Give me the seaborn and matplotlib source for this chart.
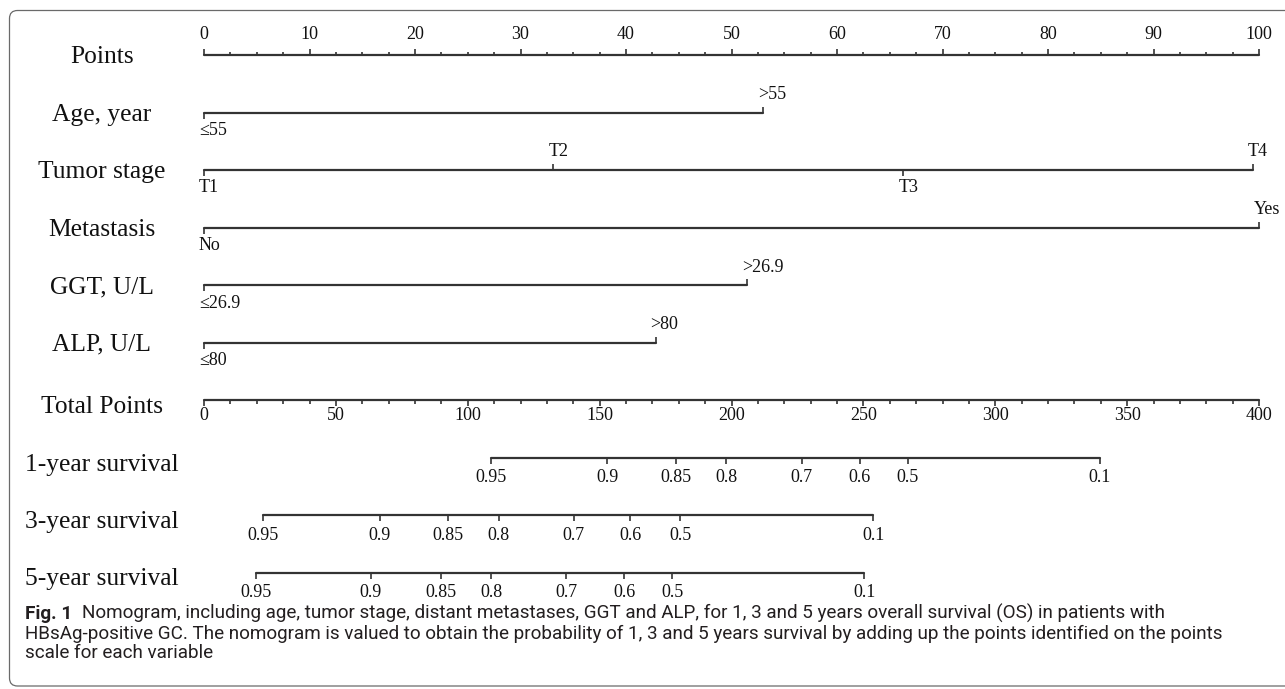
import numpy as np
import pandas as pd
import matplotlib
matplotlib.use("Agg")
import matplotlib.pyplot as plt
import seaborn as sns
from matplotlib.patches import FancyBboxPatch

# ---------------- data ----------------
row_labels = ["Points", "Age, year", "Tumor stage", "Metastasis", "GGT, U/L",
              "ALP, U/L", "Total Points", "1-year survival", "3-year survival",
              "5-year survival"]

points_major = list(range(0, 101, 10))
points_minor_step = 2.5
total_major = list(range(0, 401, 50))
total_minor_step = 10

age_levels = ["≤55", ">55"]
age_points = [0, 53.0]
tumor_levels = ["T1", "T2", "T3", "T4"]
tumor_points = [0, 33.1, 66.3, 99.4]
meta_levels = ["No", "Yes"]
meta_points = [0, 100]
ggt_levels = ["≤26.9", ">26.9"]
ggt_points = [0, 51.5]
alp_levels = ["≤80", ">80"]
alp_points = [0, 42.8]

surv_probs = ["0.95", "0.9", "0.85", "0.8", "0.7", "0.6", "0.5", "0.1"]
surv_1yr_total = [108.7, 152.8, 179.0, 198.0, 226.6, 248.7, 266.9, 339.6]
surv_3yr_total = [22.5, 66.6, 92.4, 111.8, 140.1, 161.7, 180.6, 253.7]
surv_5yr_total = [19.8, 63.2, 89.8, 108.8, 137.4, 159.4, 177.6, 250.4]

caption_bold = "Fig. 1"
caption_lines = [
    "Nomogram, including age, tumor stage, distant metastases, GGT and ALP, for 1, 3 and 5 years overall survival (OS) in patients with",
    "HBsAg-positive GC. The nomogram is valued to obtain the probability of 1, 3 and 5 years survival by adding up the points identified on the points",
    "scale for each variable",
]

# ---------------- layout ----------------
W, H = 1285, 689
X0, X100 = 204.0, 1259.0          # pixel position of 0 and 100 points
ppp = (X100 - X0) / 100.0
ROW0, ROWSTEP = 55.0, 57.5
row_y = [ROW0 + ROWSTEP * i for i in range(len(row_labels))]
TOTAL_MAX = 400.0

LC = "#333333"
TXT = "#111111"

sns.set_theme(style="white")
plt.rcParams["font.family"] = ["Liberation Serif", "DejaVu Serif"]

fig = plt.figure(figsize=(W / 100, H / 100), dpi=100)
bg = fig.add_axes([0, 0, 1, 1], zorder=0)
bg.set_xlim(0, W)
bg.set_ylim(H, 0)
bg.axis("off")
ax = fig.add_axes([0, 0, 1, 1], zorder=1)
ax.axis("off")

# frame
frame = FancyBboxPatch((9.5, 10.5), 1400, 675.5,
                       boxstyle="round,pad=0,rounding_size=8",
                       fc="none", ec="#6a6a6a", lw=0.9)
bg.add_patch(frame)

# ---------------- horizontal axis lines via seaborn ----------------
to_x = lambda tp: np.asarray(tp, dtype=float) * 100.0 / TOTAL_MAX
cat_rows = [(age_levels, age_points), (tumor_levels, tumor_points),
            (meta_levels, meta_points), (ggt_levels, ggt_points),
            (alp_levels, alp_points)]
surv_rows = [surv_1yr_total, surv_3yr_total, surv_5yr_total]

segs = []
segs.append((0, 0, 100))
for i, (_, pts) in enumerate(cat_rows):
    segs.append((i + 1, min(pts), max(pts)))
segs.append((6, 0, 100))
for j, tp in enumerate(surv_rows):
    xs = to_x(tp)
    segs.append((7 + j, xs.min(), xs.max()))

recs = []
for r, a, b in segs:
    recs.append({"row": r, "x": a, "y": row_y[r]})
    recs.append({"row": r, "x": b, "y": row_y[r]})
df = pd.DataFrame(recs)
sns.lineplot(data=df, x="x", y="y", units="row", estimator=None, sort=False,
             color=LC, lw=1.6, ax=ax, legend=False)

TL = 13
# Points axis (ticks up, labels above)
y = row_y[0]
minor = np.arange(0, 100 + 1e-9, points_minor_step)
for v in minor:
    major = abs(v / 10 - round(v / 10)) < 1e-9
    ax.vlines(v, y, y - (6 if major else 3.5), color=LC, lw=1.2)
for v in points_major:
    ax.text(v, y - 16, str(v), ha="center", va="baseline", fontsize=TL, color=TXT)

# categorical rows
for i, (levels, pts) in enumerate(cat_rows):
    y = row_y[i + 1]
    for k, (lab, v) in enumerate(zip(levels, pts)):
        below = (k % 2 == 0)
        ax.vlines(v, y, y + (6 if below else -6), color=LC, lw=1.2)
        if below:
            ax.text(v - 5 / ppp, y + 18, lab, ha="left", va="center", fontsize=TL, color=TXT)
        else:
            ax.text(v - 5 / ppp, y - 18, lab, ha="left", va="center", fontsize=TL, color=TXT)

# Total points axis (ticks down, labels below)
y = row_y[6]
for v in np.arange(0, TOTAL_MAX + 1e-9, total_minor_step):
    major = abs(v / 50 - round(v / 50)) < 1e-9
    ax.vlines(to_x(v), y, y + (6 if major else 4), color=LC, lw=1.2)
for v in total_major:
    ax.text(to_x(v), y + 16, str(v), ha="center", va="center", fontsize=TL, color=TXT)

# survival rows
for j, tp in enumerate(surv_rows):
    y = row_y[7 + j]
    for lab, v in zip(surv_probs, to_x(tp)):
        ax.vlines(v, y, y + 6, color=LC, lw=1.2)
        ax.text(v, y + 20, lab, ha="center", va="center", fontsize=TL, color=TXT)

ax.set_xlim(-X0 / ppp, (W - X0) / ppp)
ax.set_ylim(H, 0)

# left row labels
for i, lab in enumerate(row_labels):
    off = 8 if i < 6 else 13
    bg.text(102, row_y[i] + off, lab, ha="center", va="baseline",
            fontsize=18.4, color=TXT)

# ---------------- caption ----------------
cap_font = ["Roboto", "DejaVu Sans"]
CAP_X, GAP = 25, 10
fig.canvas.draw()
renderer = fig.canvas.get_renderer()

def width(s, **kw):
    t = bg.text(0, 0, s, fontsize=12, family=cap_font, **kw)
    w = t.get_window_extent(renderer).width
    t.remove()
    return w

w1 = width(caption_bold, fontweight="bold") + width(caption_lines[0])
w2 = width(caption_lines[1])
fs1 = 12 * (1137 - CAP_X - GAP) / w1
fs2 = 12 * (1258 - CAP_X) / w2
fs = float(np.sqrt(fs1 * fs2))

cap_base = [619, 639, 658]
tb = bg.text(CAP_X, cap_base[0], caption_bold, fontsize=fs, fontweight="bold",
             family=cap_font, color="#231f20", va="baseline")
bw = tb.get_window_extent(renderer).width
bg.text(CAP_X + bw + GAP, cap_base[0], caption_lines[0], fontsize=fs, family=cap_font,
        color="#231f20", va="baseline")
for k in (1, 2):
    bg.text(CAP_X, cap_base[k], caption_lines[k], fontsize=fs, family=cap_font,
            color="#231f20", va="baseline")

fig.savefig("out.png", dpi=100)
